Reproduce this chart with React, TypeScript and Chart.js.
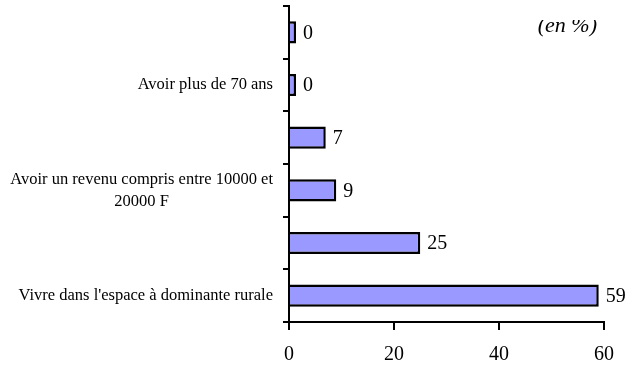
import React, { useEffect, useRef } from "react";
import { Chart, registerables } from "chart.js";

Chart.register(...registerables);

const categories: string[][] = [
  [""],
  ["Avoir plus de 70 ans"],
  [""],
  ["Avoir un revenu compris entre 10000 et", "20000 F"],
  [""],
  ["Vivre dans l'espace à dominante rurale"],
];
const values: number[] = [0, 0, 7, 9, 25, 59];
const xTicks = { min: 0, max: 60, step: 20 };
const unitNote = "(en %)";

const SERIF = "'Liberation Serif', 'Times New Roman', serif";

const overlayPlugin = {
  id: "overlay",
  afterDatasetsDraw(chart: any) {
    const ctx = chart.ctx as CanvasRenderingContext2D;
    const meta = chart.getDatasetMeta(0);
    const yScale = chart.scales.y;
    ctx.save();
    ctx.fillStyle = "#000";
    // value labels
    ctx.font = `20px ${SERIF}`;
    ctx.textAlign = "left";
    ctx.textBaseline = "middle";
    meta.data.forEach((bar: any, i: number) => {
      ctx.fillText(String(values[i]), bar.x + 7, bar.y + 1);
    });
    // category labels
    ctx.font = `16.5px ${SERIF}`;
    const rightEdge = yScale.right - 16;
    categories.forEach((lines, i) => {
      const y = yScale.getPixelForValue(i);
      const maxW = Math.max(...lines.map((l) => ctx.measureText(l).width));
      const cx = rightEdge - maxW / 2;
      const lh = 22;
      const startY = y - ((lines.length - 1) * lh) / 2;
      ctx.textAlign = "center";
      lines.forEach((l, k) => ctx.fillText(l, cx, startY + k * lh));
    });
    // unit note (clipped at top like the original)
    ctx.beginPath();
    ctx.rect(480, 20, 163, 40);
    ctx.clip();
    ctx.font = `italic 22px ${SERIF}`;
    ctx.textAlign = "right";
    ctx.textBaseline = "alphabetic";
    ctx.fillText(unitNote, 597, 32);
    ctx.restore();
  },
};

export default function App() {
  const ref = useRef<HTMLCanvasElement>(null);
  useEffect(() => {
    document.body.style.margin = "0";
    const chart = new Chart(ref.current!, {
      type: "bar",
      data: {
        labels: categories.map((c) => c.join(" ")),
        datasets: [
          {
            data: values,
            backgroundColor: "#9999FF",
            borderColor: "#000",
            borderWidth: 2.5,
            borderSkipped: "start",
            barPercentage: 0.42,
            categoryPercentage: 1,
            minBarLength: 7,
          },
        ],
      },
      options: {
        indexAxis: "y",
        animation: false,
        responsive: false,
        maintainAspectRatio: false,
        layout: { padding: { top: 6, right: 39, left: 0, bottom: 0 } },
        plugins: { legend: { display: false }, tooltip: { enabled: false } },
        scales: {
          x: {
            min: xTicks.min,
            max: xTicks.max,
            ticks: {
              stepSize: xTicks.step,
              color: "#000",
              font: { family: SERIF, size: 20 },
              padding: 13,
            },
            grid: {
              drawOnChartArea: false,
              drawTicks: true,
              tickLength: 8,
              color: "#000",
              lineWidth: 2,
            },
            border: { color: "#000", width: 2 },
            afterFit: (s: any) => {
              s.height = 43;
            },
          },
          y: {
            ticks: { display: false },
            grid: {
              drawOnChartArea: false,
              drawTicks: true,
              tickLength: 6,
              color: "#000",
              lineWidth: 2,
              offset: true,
            },
            border: { color: "#000", width: 2 },
            afterFit: (s: any) => {
              s.width = 289;
            },
          },
        },
      },
      plugins: [overlayPlugin],
    });
    return () => chart.destroy();
  }, []);
  return (
    <div style={{ position: "absolute", left: 0, top: 0, width: 643, height: 365, background: "#fff" }}>
      <canvas ref={ref} width={643} height={365} style={{ width: 643, height: 365 }} />
    </div>
  );
}
